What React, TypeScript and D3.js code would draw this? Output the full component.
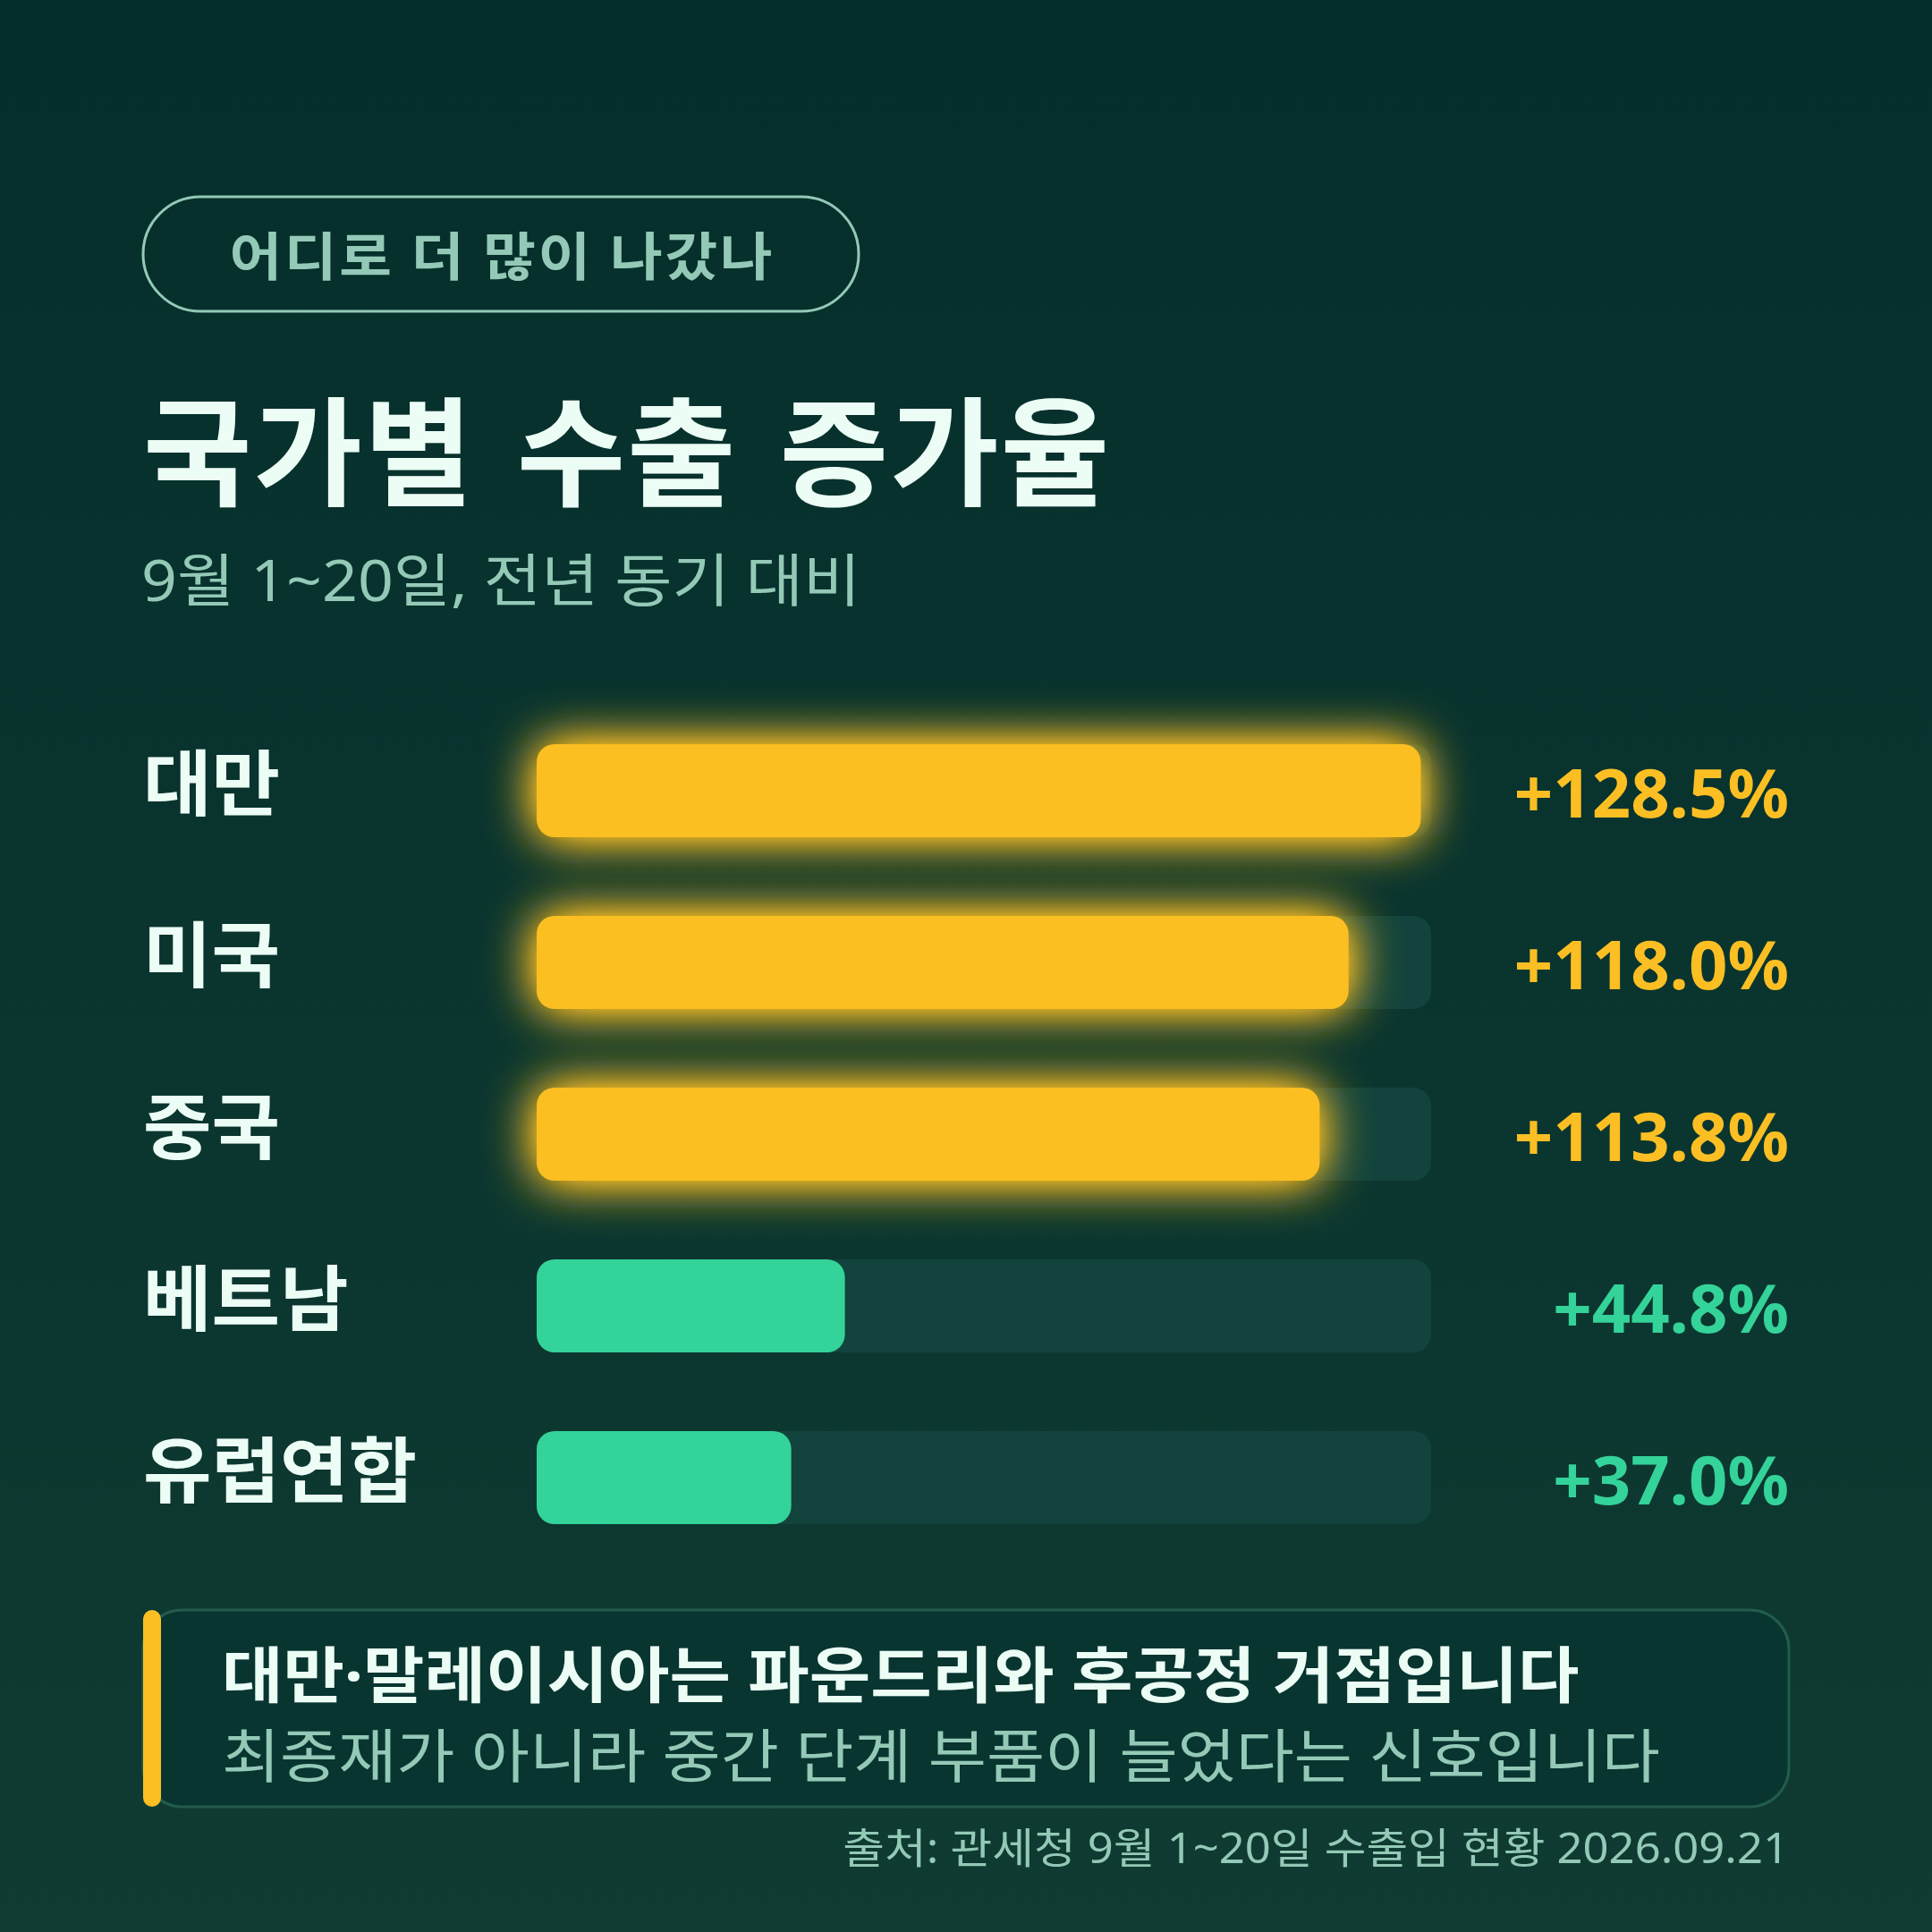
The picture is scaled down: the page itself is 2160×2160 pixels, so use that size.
import React from "react";
import * as d3 from "d3";

const categories = ["대만", "미국", "중국", "베트남", "유럽연합"];
const values = [128.5, 118.0, 113.8, 44.8, 37.0];
const highlighted = [true, true, true, false, false];

const badgeText = "어디로 더 많이 나갔나";
const titleText = "국가별 수출 증가율";
const subtitleText = "9월 1~20일, 전년 동기 대비";
const noteTitle = "대만·말레이시아는 파운드리와 후공정 거점입니다";
const noteBody = "최종재가 아니라 중간 단계 부품이 늘었다는 신호입니다";
const sourceText = "출처: 관세청 9월 1~20일 수출입 현황 2026.09.21";

const W = 2160;
const H = 2160;
const FONT = "'Noto Sans', 'Noto Sans CJK KR', sans-serif";
const YELLOW = "#FBBF24";
const GREEN = "#34D399";
const MINT = "#93c9b6";
const WHITE = "#ecfdf5";

function Txt(props: {
  x: number;
  y: number;
  sx?: number;
  children: React.ReactNode;
  [k: string]: any;
}) {
  const { x, y, sx = 1, children, ...rest } = props;
  return (
    <text transform={`translate(${x},${y}) scale(${sx},1)`} x={0} y={0} {...rest}>
      {children}
    </text>
  );
}

export default function App() {
  const x = d3.scaleLinear().domain([0, 130]).range([600, 1600]);
  const y = d3
    .scaleBand<string>()
    .domain(categories)
    .range([832, 832 + 4 * 192 + 104])
    .paddingInner(88 / 192)
    .paddingOuter(0);
  const bw = y.bandwidth();
  const fmt = d3.format("+.1f");

  return (
    <svg
      width={W}
      height={H}
      viewBox={`0 0 ${W} ${H}`}
      style={{ position: "absolute", left: 0, top: 0, display: "block" }}
      fontFamily={FONT}
    >
      <defs>
        <linearGradient id="bg" x1="0" y1="0" x2="0" y2="1">
          <stop offset="0" stopColor="#052e2b" />
          <stop offset="1" stopColor="#0f3b32" />
        </linearGradient>
        <filter id="glow" x="-12%" y="-110%" width="124%" height="320%">
          <feGaussianBlur in="SourceGraphic" stdDeviation="28" result="b" />
          <feComponentTransfer in="b" result="b2">
            <feFuncA type="linear" slope="1.6" />
          </feComponentTransfer>
          <feMerge>
            <feMergeNode in="b2" />
            <feMergeNode in="SourceGraphic" />
          </feMerge>
        </filter>
      </defs>
      <rect x={0} y={0} width={W} height={H} fill="url(#bg)" />

      {/* badge */}
      <rect x={160} y={220} width={800} height={128} rx={64} fill="none" stroke={MINT} strokeWidth={3} />
      <Txt x={561.3} y={286} sx={1.1} textAnchor="middle" dominantBaseline="central" fill={MINT} fontSize={58} fontWeight={700} letterSpacing={2.4}>
        {badgeText}
      </Txt>

      {/* title */}
      <Txt x={160} y={504} dominantBaseline="central" fill={WHITE} fontSize={132} fontWeight={700} letterSpacing={2} wordSpacing={11}>
        {titleText}
      </Txt>
      <Txt x={158} y={647} sx={1.09} dominantBaseline="central" fill={MINT} fontSize={64} fontWeight={400}>
        {subtitleText}
      </Txt>

      {/* bars */}
      {categories.map((c, i) => {
        const yy = y(c)!;
        const cy = yy + bw / 2;
        const col = highlighted[i] ? YELLOW : GREEN;
        return (
          <g key={c}>
            <Txt x={160} y={cy - 10} sx={1.04} dominantBaseline="central" fill={WHITE} fontSize={80} fontWeight={700}>
              {c}
            </Txt>
            <rect x={x(0)} y={yy} width={x(130) - x(0)} height={bw} rx={20} fill="#12433c" />
            <rect
              x={x(0)}
              y={yy}
              width={x(values[i]) - x(0)}
              height={bw}
              rx={20}
              fill={col}
              filter={highlighted[i] ? "url(#glow)" : undefined}
            />
            <text
              x={2000}
              y={cy + 30}
              textAnchor="end"
              fill={col}
              fontSize={76}
              fontWeight={700}
              fontFamily="'Noto Sans', sans-serif"
            >
              {fmt(values[i]) + "%"}
            </text>
          </g>
        );
      })}

      {/* note box */}
      <rect x={160} y={1800} width={1840} height={220} rx={44} fill="#083530" stroke="#235c4c" strokeWidth={3} />
      <rect x={160} y={1800} width={20} height={220} rx={10} fill={YELLOW} />
      <Txt x={248} y={1872} sx={1.095} dominantBaseline="central" fill={WHITE} fontSize={68} fontWeight={700}>
        {noteTitle}
      </Txt>
      <Txt x={248} y={1962} sx={1.089} dominantBaseline="central" fill={MINT} fontSize={65} fontWeight={400}>
        {noteBody}
      </Txt>

      <Txt x={2000} y={2083} sx={1.08} textAnchor="end" fill={MINT} fontSize={47} fontWeight={400}>
        {sourceText}
      </Txt>
    </svg>
  );
}
